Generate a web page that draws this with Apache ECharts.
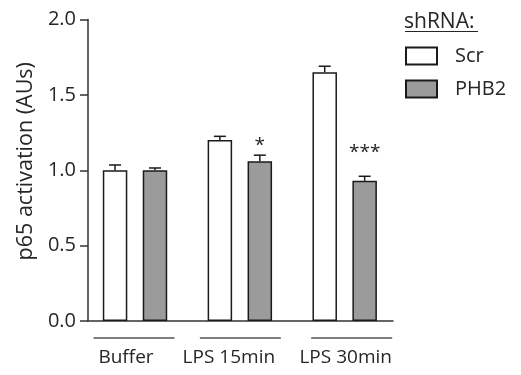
<!DOCTYPE html>
<html>
<head>
<meta charset="utf-8">
<script src="https://cdn.jsdelivr.net/npm/echarts@6/dist/echarts.min.js"></script>
<style>
  html, body { margin: 0; padding: 0; background: #fff; }
  #chart { width: 521px; height: 375px; }
</style>
</head>
<body>
<div id="chart"></div>
<script>
// ---- data ----
const categories = ['Buffer', 'LPS 15min', 'LPS 30min'];
const seriesNames = ['Scr', 'PHB2'];
const scrMean = [1.00, 1.20, 1.65];
const scrErr = [0.035, 0.025, 0.04];
const phb2Mean = [1.00, 1.06, 0.93];
const phb2Err = [0.015, 0.04, 0.03];
const sigLabels = ['', '*', '***'];
const sigHeights = [null, 1.165, 1.12];
const yTicks = [0, 0.5, 1.0, 1.5, 2.0];

// ---- style ----
const FONT = 'Open Sans';
const INK = '#262626';
const EDGE = '#1a1a1a';
const GRAY = '#9b9b9b';
const BAR_W = 24.5;
const BAR_GAP = 0.63;
const PAIR_OFFSET = (BAR_W + BAR_W * BAR_GAP) / 2;
const CAP = 12;
const labelShift = [-9, -11, 1];
const underlineShift = [-1, 0.5, 7];
const UNDERLINE_HALF = 40.5;

const chart = echarts.init(document.getElementById('chart'), null, { renderer: 'canvas' });

function errorSeries(name, means, errs, sign) {
  return {
    type: 'custom',
    name: name,
    xAxisIndex: 0,
    yAxisIndex: 0,
    z: 5,
    silent: true,
    data: categories.map((c, i) => [i, means[i], means[i] + errs[i]]),
    renderItem: function (params, api) {
      const base = api.coord([api.value(0), api.value(1)]);
      const top = api.coord([api.value(0), api.value(2)]);
      const x = base[0] + sign * PAIR_OFFSET;
      const style = { stroke: EDGE, lineWidth: 1.5 };
      return {
        type: 'group',
        children: [
          { type: 'line', shape: { x1: x, y1: base[1], x2: x, y2: top[1] }, style: style },
          { type: 'line', shape: { x1: x - CAP / 2, y1: top[1], x2: x + CAP / 2, y2: top[1] }, style: style }
        ]
      };
    }
  };
}

const richLabels = {};
labelShift.forEach((s, i) => {
  richLabels['c' + i] = {
    fontFamily: FONT, fontSize: 19, color: INK,
    padding: [0, s < 0 ? -2 * s : 0, 0, s > 0 ? 2 * s : 0]
  };
});

const axisLineStyle = { color: '#333', width: 1.5 };

chart.setOption({
  animation: false,
  backgroundColor: '#fff',
  title: {
    text: 'shRNA:',
    left: 404,
    top: 12,
    padding: 0,
    textStyle: { fontFamily: FONT, fontSize: 21, fontWeight: 'normal', color: INK }
  },
  legend: {
    data: seriesNames,
    orient: 'vertical',
    left: 405,
    top: 46,
    padding: 0,
    icon: 'rect',
    itemWidth: 31,
    itemHeight: 17,
    itemGap: 13,
    textStyle: { fontFamily: FONT, fontSize: 20, color: INK, padding: [0, 0, 0, 13] }
  },
  grid: [
    { left: 82.6, width: 314.5, top: 19.5, height: 301.5 },
    { left: 88, width: 305, top: 19.5, height: 301.5 }
  ],
  xAxis: [
    {
      gridIndex: 0,
      type: 'category',
      data: categories,
      axisLine: { show: false },
      axisTick: { show: false },
      axisLabel: {
        interval: 0,
        hideOverlap: false,
        margin: 27,
        formatter: (v, i) => '{c' + i + '|' + v + '}',
        rich: richLabels
      }
    },
    {
      gridIndex: 1,
      type: 'value',
      min: 0,
      max: 1,
      axisLine: { show: true, lineStyle: axisLineStyle },
      axisTick: { show: false },
      axisLabel: { show: false },
      splitLine: { show: false }
    }
  ],
  yAxis: [
    { gridIndex: 0, type: 'value', min: 0, max: 2, show: false },
    {
      gridIndex: 1,
      type: 'value',
      min: 0,
      max: 2,
      interval: 0.5,
      axisLine: { show: true, lineStyle: axisLineStyle },
      axisTick: { show: true, length: 8, lineStyle: axisLineStyle, customValues: yTicks },
      axisLabel: {
        customValues: yTicks,
        formatter: v => v.toFixed(1),
        margin: 12,
        fontFamily: FONT,
        fontSize: 20,
        color: INK
      },
      splitLine: { show: false },
      name: 'p65 activation (AUs)',
      nameLocation: 'middle',
      nameGap: 45,
      nameTextStyle: { fontFamily: FONT, fontSize: 21.5, color: INK, padding: [0, 0, 0, 18] }
    }
  ],
  series: [
    {
      type: 'bar',
      name: seriesNames[0],
      xAxisIndex: 0,
      yAxisIndex: 0,
      data: scrMean,
      barWidth: BAR_W,
      barGap: (BAR_GAP * 100) + '%',
      itemStyle: { color: '#ffffff', borderColor: EDGE, borderWidth: 1.5 }
    },
    {
      type: 'bar',
      name: seriesNames[1],
      xAxisIndex: 0,
      yAxisIndex: 0,
      data: phb2Mean,
      barWidth: BAR_W,
      barGap: (BAR_GAP * 100) + '%',
      itemStyle: { color: GRAY, borderColor: EDGE, borderWidth: 1.5 }
    },
    errorSeries('Scr error', scrMean, scrErr, -1),
    errorSeries('PHB2 error', phb2Mean, phb2Err, 1),
    {
      type: 'custom',
      name: 'significance',
      xAxisIndex: 0,
      yAxisIndex: 0,
      z: 6,
      silent: true,
      data: categories.map((c, i) => [i, sigHeights[i] == null ? 0 : sigHeights[i], sigLabels[i]]),
      renderItem: function (params, api) {
        const label = sigLabels[params.dataIndex];
        if (!label) return null;
        const p = api.coord([api.value(0), api.value(1)]);
        return {
          type: 'text',
          x: p[0] + PAIR_OFFSET,
          y: p[1],
          style: {
            text: label,
            align: 'center',
            verticalAlign: 'middle',
            fontFamily: FONT,
            fontSize: 19,
            fill: INK
          }
        };
      }
    }
  ]
});

// Group underlines beneath the x axis and the legend title underline
const baseY = chart.convertToPixel({ yAxisIndex: 0 }, 0);
const lines = categories.map((c, i) => {
  const cx = chart.convertToPixel({ xAxisIndex: 0 }, c) + underlineShift[i];
  return {
    type: 'line',
    shape: { x1: cx - UNDERLINE_HALF, y1: baseY + 17, x2: cx + UNDERLINE_HALF, y2: baseY + 17 },
    style: { stroke: '#555', lineWidth: 1.5 }
  };
});
lines.push({
  type: 'line',
  shape: { x1: 405, y1: 31.5, x2: 478, y2: 31.5 },
  style: { stroke: INK, lineWidth: 1.2 }
});
chart.setOption({ graphic: { elements: lines } });
</script>
</body>
</html>
